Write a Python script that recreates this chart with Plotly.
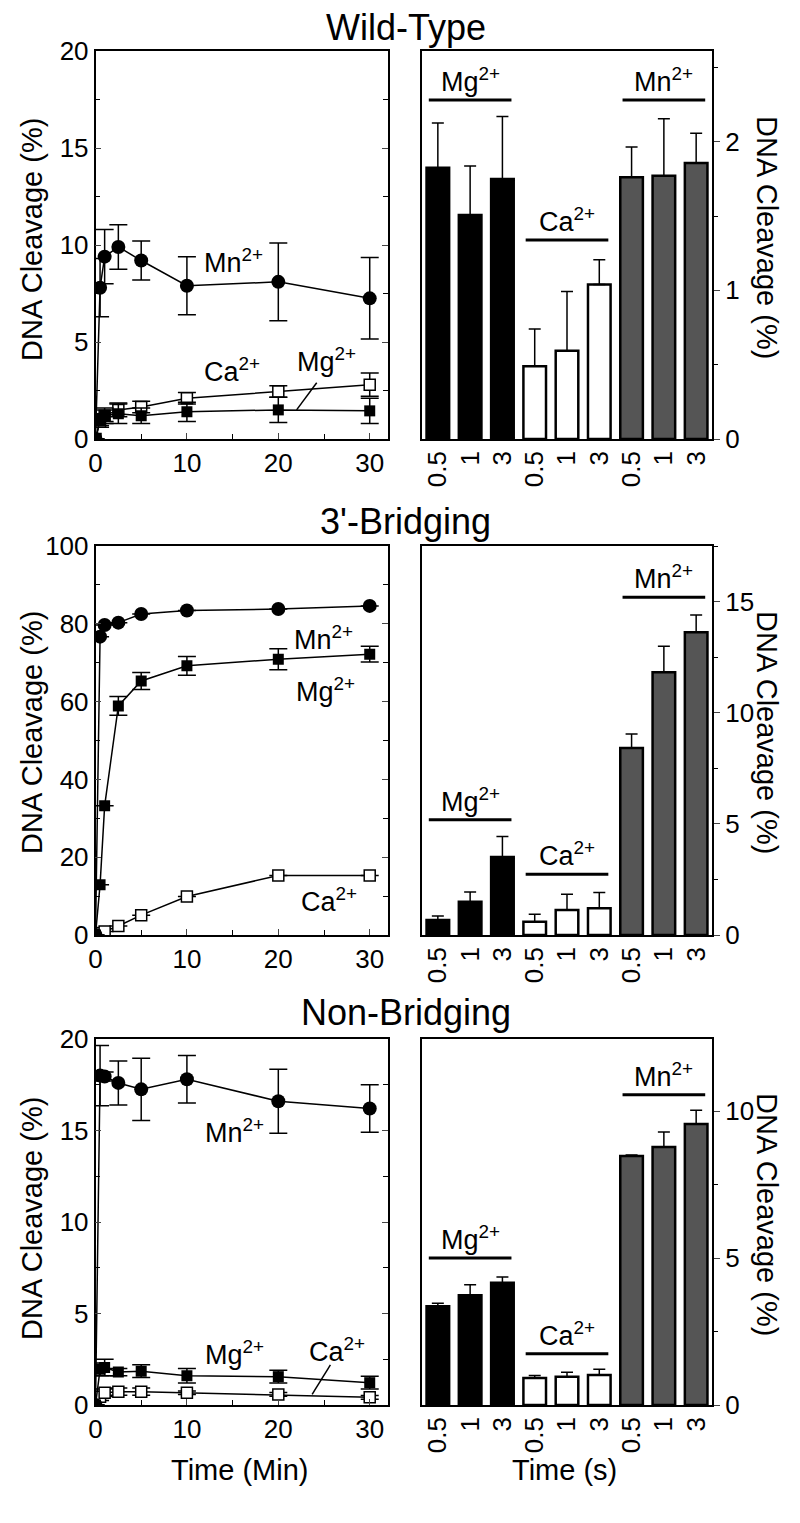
import plotly.graph_objects as go

# ---------------- data ----------------
time_min = [0, 0.5, 1, 2.5, 5, 10, 20, 30]

# Wild-Type (time course, %)
wt_mn = [0, 7.8, 9.4, 9.9, 9.2, 7.9, 8.1, 7.25]
wt_mn_err = [None, 1.5, 1.4, 1.15, 1.0, 1.5, 2.0, 2.1]
wt_mg = [0, 1.0, 1.2, 1.3, 1.2, 1.4, 1.5, 1.45]
wt_mg_err = [None, 0.3, 0.4, 0.5, 0.4, 0.5, 0.65, 0.65]
wt_ca = [0, 0.9, 1.2, 1.5, 1.65, 2.1, 2.45, 2.8]
wt_ca_err = [None, 0.3, 0.3, 0.35, 0.3, 0.3, 0.3, 0.6]

# 3'-Bridging
br_mn = [0, 76.7, 79.7, 80.3, 82.5, 83.4, 83.8, 84.6]
br_mn_err = [None, None, None, None, None, None, None, None]
br_mg = [0, 12.9, 33.2, 58.9, 65.3, 69.2, 70.9, 72.2]
br_mg_err = [None, None, None, 2.4, 2.2, 2.4, 2.7, 2.0]
br_ca = [0, 0.5, 0.9, 2.3, 5.1, 9.9, 15.3, 15.3]
br_ca_err = [None, None, None, None, None, None, None, None]

# Non-Bridging
nb_mn = [0, 18.0, 17.95, 17.6, 17.25, 17.8, 16.6, 16.2]
nb_mn_err = [None, 1.65, 0.25, 1.2, 1.7, 1.3, 1.75, 1.3]
nb_mg = [0, 1.95, 2.05, 1.8, 1.85, 1.6, 1.55, 1.22]
nb_mg_err = [None, 0.35, 0.45, 0.2, 0.35, 0.4, 0.35, 0.35]
nb_ca = [0, 0.45, 0.67, 0.73, 0.73, 0.67, 0.58, 0.42]
nb_ca_err = [None, 0.2, 0.2, 0.2, 0.2, 0.1, 0.1, 0.1]

# Bar panels (time in s)
bar_times = ["0.5", "1", "3"]
metals = ["Mg", "Ca", "Mn"]

wt_bar = {"Mg": [1.825, 1.506, 1.749], "Ca": [0.49, 0.593, 1.04], "Mn": [1.76, 1.77, 1.857]}
wt_bar_err = {"Mg": [0.30, 0.33, 0.42], "Ca": [0.25, 0.40, 0.165], "Mn": [0.205, 0.385, 0.2]}
br_bar = {"Mg": [0.68, 1.5, 3.51], "Ca": [0.6, 1.13, 1.2], "Mn": [8.41, 11.82, 13.62]}
br_bar_err = {"Mg": [0.18, 0.44, 0.92], "Ca": [0.33, 0.7, 0.71], "Mn": [0.63, 1.17, 0.78]}
nb_bar = {"Mg": [3.36, 3.73, 4.16], "Ca": [0.92, 0.965, 1.02], "Mn": [8.47, 8.78, 9.56]}
nb_bar_err = {"Mg": [0.1, 0.36, 0.19], "Ca": [0.08, 0.15, 0.2], "Mn": [0.03, 0.51, 0.47]}

panel_titles = ["Wild-Type", "3'-Bridging", "Non-Bridging"]

# ---------------- styling ----------------
FONT = "Liberation Sans, Arial, Helvetica, sans-serif"
W, H = 800, 1523
left_dom = [95.5 / W, 388 / W]
right_dom = [421.7 / W, 712.3 / W]
row_px = [(51, 439), (546, 935), (1039, 1405)]
row_dom = [[1 - b / H, 1 - t / H] for t, b in row_px]

bar_fill = {"Mg": "black", "Ca": "white", "Mn": "#555555"}
line_marker = {
    "Mn": dict(symbol="circle", size=14, color="black"),
    "Mg": dict(symbol="square", size=11, color="black"),
    "Ca": dict(symbol="square", size=11, color="white", line=dict(color="black", width=1.5)),
}

line_sets = [
    {"Mn": (wt_mn, wt_mn_err), "Mg": (wt_mg, wt_mg_err), "Ca": (wt_ca, wt_ca_err)},
    {"Mn": (br_mn, br_mn_err), "Mg": (br_mg, br_mg_err), "Ca": (br_ca, br_ca_err)},
    {"Mn": (nb_mn, nb_mn_err), "Mg": (nb_mg, nb_mg_err), "Ca": (nb_ca, nb_ca_err)},
]
bar_sets = [(wt_bar, wt_bar_err), (br_bar, br_bar_err), (nb_bar, nb_bar_err)]

left_yaxes = [dict(range=[0, 20], dtick=5, minor=2.5),
              dict(range=[0, 100], dtick=20, minor=10),
              dict(range=[0, 20], dtick=5, minor=2.5)]
right_yaxes = [dict(range=[0, 2.61], dtick=1, minor=0.5),
               dict(range=[0, 17.5], dtick=5, minor=2.5),
               dict(range=[0, 12.45], dtick=5, minor=2.5)]

# label placements (layout, not data)
left_labels = [
    [("Mn", 15.1, 9.2), ("Ca", 14.9, 3.55), ("Mg", 25.3, 4.07)],
    [("Mn", 24.9, 76.3), ("Mg", 25.2, 63.0), ("Ca", 25.5, 9.0)],
    [("Mn", 15.2, 14.95), ("Mg", 15.2, 2.86), ("Ca", 26.4, 3.0)],
]
pointers = [((24.2, 2.9), (22.0, 1.5)), None, ((25.7, 2.19), (23.7, 0.58))]
group_line_y = [
    {"Mg": 2.28, "Ca": 1.338, "Mn": 2.28},
    {"Mg": 5.18, "Ca": 2.73, "Mn": 15.2},
    {"Mg": 5.0, "Ca": 1.74, "Mn": 10.55},
]
title_y_px = [28, 522, 1012]
right_title_y_px = [237, 732, 1214]
left_title_y_px = [240, 733, 1219]

fig = go.Figure()
layout = dict(
    width=W, height=H, margin=dict(l=0, r=0, t=0, b=0, autoexpand=False),
    paper_bgcolor="white", plot_bgcolor="white", showlegend=False,
    font=dict(family=FONT, color="black", size=24),
)
annotations = []
shapes = []

def sup(m):
    return f"{m}<sup>2+</sup>"

for r in range(3):
    xl, yl = 2 * r + 1, 2 * r + 1
    xr, yr = 2 * r + 2, 2 * r + 2
    yo = 7 + r
    sfx = lambda n: "" if n == 1 else str(n)

    # ----- line plot -----
    for m in ["Ca", "Mg", "Mn"]:
        vals, errs = line_sets[r][m]
        fig.add_trace(go.Scatter(
            x=time_min, y=vals, mode="lines+markers",
            line=dict(color="black", width=1.5),
            marker=line_marker[m],
            error_y=dict(type="data", array=errs, color="black", thickness=1.5, width=9),
            xaxis="x" + sfx(xl), yaxis="y" + sfx(yl),
        ))
    layout["xaxis" + sfx(xl)] = dict(
        domain=left_dom, anchor="y" + sfx(yl), range=[0, 32], automargin=False,
        tickmode="linear", tick0=0, dtick=10, ticks="inside", ticklen=6,
        minor=dict(dtick=5, ticks="inside", ticklen=5, tickcolor="black"),
        showline=True, linecolor="black", linewidth=1.5, mirror=True,
        showgrid=False, zeroline=False, tickfont=dict(size=26),
    )
    ly = left_yaxes[r]
    layout["yaxis" + sfx(yl)] = dict(
        domain=row_dom[r], anchor="x" + sfx(xl), range=ly["range"], automargin=False,
        tickmode="linear", tick0=0, dtick=ly["dtick"], ticks="inside", ticklen=6,
        minor=dict(dtick=ly["minor"], ticks="inside", ticklen=5, tickcolor="black"),
        showline=True, linecolor="black", linewidth=1.5, mirror="ticks",
        showgrid=False, zeroline=False, tickfont=dict(size=26),
    )
    for m, lx, lyv in left_labels[r]:
        annotations.append(dict(
            x=lx, y=lyv, xref="x" + sfx(xl), yref="y" + sfx(yl), text=sup(m),
            showarrow=False, font=dict(size=27), xanchor="center", yanchor="middle",
        ))
    if pointers[r]:
        (px0, py0), (px1, py1) = pointers[r]
        shapes.append(dict(type="line", xref="x" + sfx(xl), yref="y" + sfx(yl),
                           x0=px0, y0=py0, x1=px1, y1=py1,
                           line=dict(color="black", width=1.5)))

    # ----- bar plot -----
    bvals, berrs = bar_sets[r]
    for g, m in enumerate(metals):
        xs = [g * len(bar_times) + i for i in range(len(bar_times))]
        fig.add_trace(go.Bar(
            x=xs, y=bvals[m], width=0.7,
            marker=dict(color=bar_fill[m], line=dict(color="black", width=2.5)),
            error_y=dict(type="data", symmetric=False, array=berrs[m],
                         arrayminus=[0] * len(xs), color="black", thickness=1.5, width=6),
            xaxis="x" + sfx(xr), yaxis="y" + sfx(yr),
        ))
        cx = g * len(bar_times) + (len(bar_times) - 1) / 2
        ly_line = group_line_y[r][m]
        shapes.append(dict(type="line", xref="x" + sfx(xr), yref="y" + sfx(yr),
                           x0=cx - 1.28, x1=cx + 1.28, y0=ly_line, y1=ly_line,
                           line=dict(color="black", width=3)))
        annotations.append(dict(
            x=cx, y=ly_line, xref="x" + sfx(xr), yref="y" + sfx(yr), text=sup(m),
            showarrow=False, font=dict(size=27), xanchor="center", yanchor="bottom", yshift=1,
        ))
    tickvals = list(range(len(metals) * len(bar_times)))
    ticktext = [t for _ in metals for t in bar_times]
    layout["xaxis" + sfx(xr)] = dict(
        domain=right_dom, anchor="y" + sfx(yr), range=[-0.5, 8.5], automargin=False,
        tickmode="array", tickvals=tickvals, ticktext=ticktext, tickangle=-90,
        ticks="", showline=True, linecolor="black", linewidth=1.5, mirror=True,
        showgrid=False, zeroline=False, tickfont=dict(size=26),
    )
    ry = right_yaxes[r]
    layout["yaxis" + sfx(yr)] = dict(
        domain=row_dom[r], anchor="x" + sfx(xr), side="right", range=ry["range"], automargin=False,
        tickmode="linear", tick0=0, dtick=ry["dtick"], ticks="outside", ticklen=6,
        minor=dict(dtick=ry["minor"], ticks="outside", ticklen=4, tickcolor="black"),
        showline=True, linecolor="black", linewidth=1.5, mirror=True,
        showgrid=False, zeroline=False, tickfont=dict(size=26),
    )
    layout["yaxis" + str(yo)] = dict(
        overlaying="y" + sfx(yr), anchor="x" + sfx(xr), side="left", range=ry["range"],
        automargin=False,
        tickmode="linear", tick0=0, dtick=ry["dtick"], ticks="inside", ticklen=6,
        minor=dict(dtick=ry["minor"], ticks="inside", ticklen=5, tickcolor="black"),
        showticklabels=False, showline=False, showgrid=False, zeroline=False,
    )

    # titles
    annotations.append(dict(x=406 / W, y=1 - title_y_px[r] / H, xref="paper", yref="paper",
                            text=panel_titles[r], showarrow=False, font=dict(size=36),
                            xanchor="center", yanchor="middle"))
    annotations.append(dict(x=32 / W, y=1 - left_title_y_px[r] / H, xref="paper", yref="paper",
                            text="DNA Cleavage (%)", showarrow=False, font=dict(size=29),
                            textangle=-90, xanchor="center", yanchor="middle"))
    annotations.append(dict(x=767 / W, y=1 - right_title_y_px[r] / H, xref="paper", yref="paper",
                            text="DNA Cleavage (%)", showarrow=False, font=dict(size=29),
                            textangle=90, xanchor="center", yanchor="middle"))

annotations.append(dict(x=239 / W, y=1 - 1470 / H, xref="paper", yref="paper",
                        text="Time (Min)", showarrow=False, font=dict(size=29),
                        xanchor="center", yanchor="middle"))
annotations.append(dict(x=564 / W, y=1 - 1470 / H, xref="paper", yref="paper",
                        text="Time (s)", showarrow=False, font=dict(size=29),
                        xanchor="center", yanchor="middle"))

layout["annotations"] = annotations
layout["shapes"] = shapes
layout["bargap"] = 0.3
fig.update_layout(**layout)
fig.write_html("out.html", config={"displayModeBar": False},
               post_script="document.body.style.margin='0px';document.body.style.overflow='hidden';")
